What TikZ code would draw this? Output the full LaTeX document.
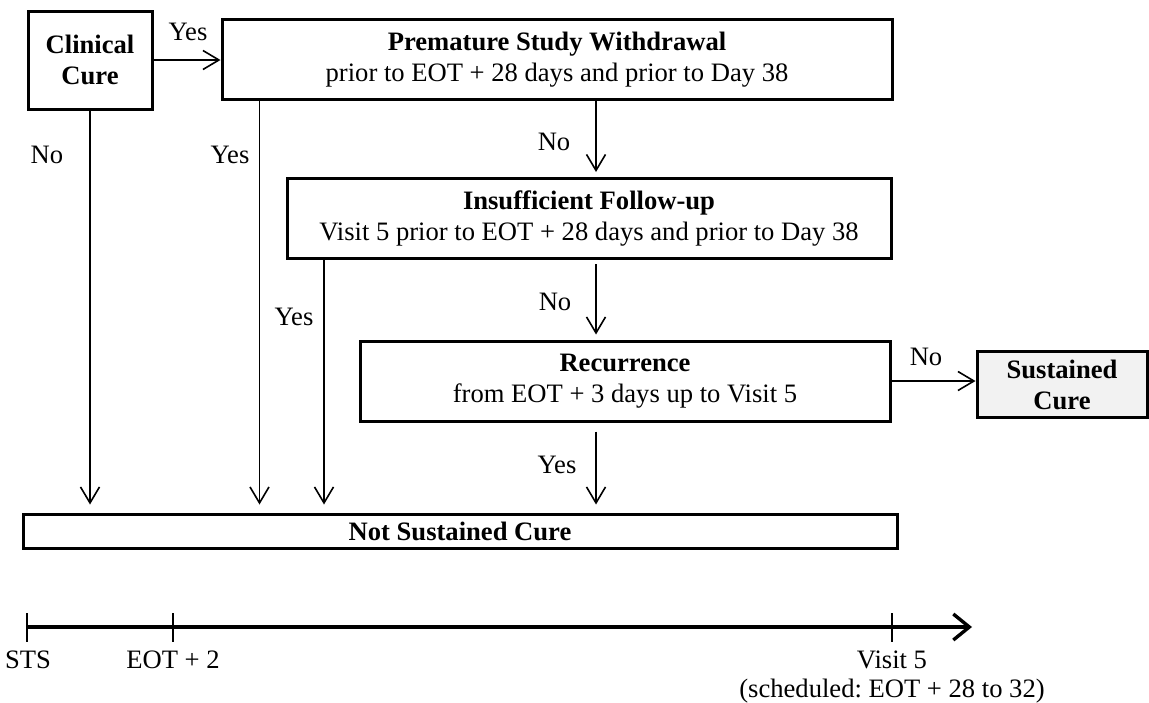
\documentclass[tikz,border=0pt]{standalone}
\usepackage{fontspec}
\setmainfont{Liberation Serif}
\usetikzlibrary{arrows.meta,calc}
\definecolor{sfill}{RGB}{242,242,242}
\frenchspacing
\begin{document}
\begin{tikzpicture}[x=0.5pt,y=-0.5pt,
  every node/.style={font=\fontsize{13.3}{15.5}\selectfont},
  box/.style={draw,line width=1.5pt,inner sep=0pt,align=center},
  boldbox/.style={box,font=\fontsize{13.3}{15.5}\selectfont\bfseries},
  conn/.style={line width=0.8pt},
  arr/.style={conn,-{Straight Barb[length=8pt,width=9.5pt]}},
  lbl/.style={inner sep=0pt},
  tick/.style={line width=1pt}]
\useasboundingbox (0,0) rectangle (1149,702);

% boxes
\node[boldbox,minimum width=62pt,minimum height=49pt] (clin) at (90,60) {Clinical\\Cure};
\node[box,minimum width=335pt,minimum height=40pt] (prem) at (557,59.5)
  {\textbf{Premature Study Withdrawal}\\prior to EOT + 28 days and prior to Day 38};
\node[box,minimum width=302pt,minimum height=40pt] (insuf) at (589,218.5)
  {\textbf{Insufficient Follow-up}\\Visit 5 prior to EOT + 28 days and prior to Day 38};
\node[box,minimum width=265pt,minimum height=40pt] (rec) at (625,381)
  {\textbf{Recurrence}\\from EOT + 3 days up to Visit 5};
\node[boldbox,fill=sfill,minimum width=85pt,minimum height=33pt] (sus) at (1062,384.5) {Sustained\\Cure};
\node[boldbox,minimum width=437pt,minimum height=17pt] (notsus) at (460,531) {Not Sustained Cure};

% helper coordinates
\coordinate (c596) at (596,0);
\coordinate (c324) at (324,0);
\coordinate (p1) at ($(prem.south west)+(39,0)$);

% connectors
\draw[arr] (clin.east) -- (clin.east -| prem.west);
\node[lbl] (yes1) at (188,32) {Yes};
\draw[arr,shorten >=4pt] (clin.south) -- (clin.south |- notsus.north);
\node[lbl] (no1) at (47,155) {No};
\draw[arr,shorten >=4pt] (p1) -- (p1 |- notsus.north);
\node[lbl] (yes2) at (230,155) {Yes};
\draw[arr,shorten >=2.5pt] (prem.south -| c596) -- (insuf.north -| c596);
\node[lbl] (no2) at (554,142) {No};
\draw[arr,shorten >=4pt] (insuf.south -| c324) -- (notsus.north -| c324);
\node[lbl] (yes3) at (294,317) {Yes};
\draw[arr,shorten <=2pt,shorten >=2.5pt] (insuf.south -| c596) -- (rec.north -| c596);
\node[lbl] (no3) at (555,302) {No};
\draw[arr,shorten <=4.5pt,shorten >=4pt] (rec.south -| c596) -- (notsus.north -| c596);
\node[lbl] (yes4) at (557,465) {Yes};
\draw[arr] (rec.east) -- (rec.east -| sus.west);
\node[lbl] (no4) at (926,357) {No};

% timeline
\coordinate (t0) at (27,627);
\coordinate (t1) at (173,627);
\coordinate (t2) at (892,627);
\coordinate (tend) at (972,627);
\draw[line width=1.7pt,-{Straight Barb[length=8pt,width=13pt]}] (t0) -- (tend);
\foreach \t in {t0,t1,t2} \draw[tick] (\t) ++(0,-14) -- ++(0,29);
\node[anchor=base,inner sep=0pt] (sts) at (28,668) {STS};
\node[anchor=base,inner sep=0pt] (eot) at (173,668) {EOT + 2};
\node[anchor=base,inner sep=0pt] (v5) at (892,668) {Visit 5};
\node[anchor=base,inner sep=0pt] (sched) at (892,697) {(scheduled: EOT + 28 to 32)};
\end{tikzpicture}
\end{document}
